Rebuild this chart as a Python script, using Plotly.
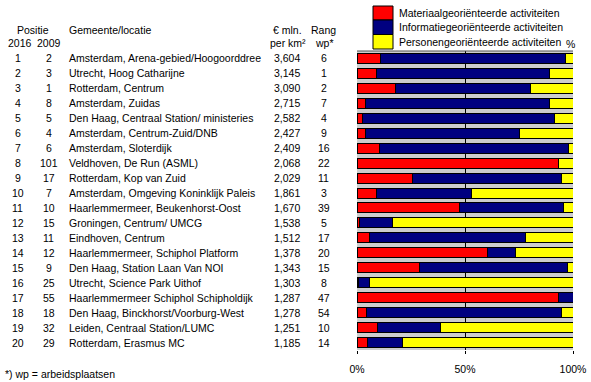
import plotly.graph_objects as go

pos2016 = list(range(1, 21))
pos2009 = [2, 3, 1, 8, 5, 4, 6, 101, 17, 7, 10, 15, 11, 12, 9, 25, 55, 18, 32, 29]
locaties = [
    "Amsterdam, Arena-gebied/Hoogoorddree",
    "Utrecht, Hoog Catharijne",
    "Rotterdam, Centrum",
    "Amsterdam, Zuidas",
    "Den Haag, Centraal Station/ ministeries",
    "Amsterdam, Centrum-Zuid/DNB",
    "Amsterdam, Sloterdijk",
    "Veldhoven, De Run (ASML)",
    "Rotterdam, Kop van Zuid",
    "Amsterdam, Omgeving Koninklijk Paleis",
    "Haarlemmermeer, Beukenhorst-Oost",
    "Groningen, Centrum/ UMCG",
    "Eindhoven, Centrum",
    "Haarlemmermeer, Schiphol Platform",
    "Den Haag, Station Laan Van NOI",
    "Utrecht, Science Park Uithof",
    "Haarlemmermeer Schiphol Schipholdijk",
    "Den Haag, Binckhorst/Voorburg-West",
    "Leiden, Centraal Station/LUMC",
    "Rotterdam, Erasmus MC",
]
mln_per_km2 = ["3,604", "3,145", "3,090", "2,715", "2,582", "2,427", "2,409", "2,068", "2,029", "1,861",
               "1,670", "1,538", "1,512", "1,378", "1,343", "1,303", "1,287", "1,278", "1,251", "1,185"]
rang_wp = [6, 1, 2, 7, 4, 9, 16, 22, 11, 3, 39, 5, 17, 20, 15, 8, 47, 54, 10, 14]

materiaal = [10.9, 9.1, 17.8, 4.0, 2.6, 4.0, 10.5, 93.1, 25.7, 9.1,
             47.4, 1.1, 5.8, 60.3, 28.9, 0.6, 93.1, 4.5, 9.5, 4.9]
informatie = [85.5, 80.0, 62.5, 85.1, 88.8, 71.2, 87.4, 0.0, 69.1, 44.0,
              48.2, 15.5, 72.3, 13.1, 68.5, 5.4, 6.9, 90.3, 29.2, 16.3]
personen = [round(100 - m - i, 1) for m, i in zip(materiaal, informatie)]

series_names = ["Materiaalgeoriënteerde activiteiten",
                "Informatiegeoriënteerde activiteiten",
                "Personengeoriënteerde activiteiten"]
series_colors = ["#ff0000", "#000080", "#ffff00"]
tick_vals = [0, 50, 100]
tick_text = ["0%", "50%", "100%"]

W, H = 591, 382
L, R, T, B = 357, 18, 51, 32
PW, PH = W - L - R, H - T - B

def px(x):
    return (x - L) / PW

def py(y):
    return 1 - (y - T) / PH

rows = list(range(len(locaties)))
fig = go.Figure()
for vals, name, col in zip([materiaal, informatie, personen], series_names, series_colors):
    fig.add_trace(go.Bar(
        y=rows, x=vals, orientation="h", name=name, width=0.667,
        marker=dict(color=col, line=dict(color="black", width=1)),
        showlegend=False,
    ))

FONT = dict(family="Liberation Sans, Arial, sans-serif", size=10.5, color="black")
ann = []
def add(text, x, y, xanchor="center", yref="paper"):
    ann.append(dict(text=text, x=x, y=y, xref="paper", yref=yref, xanchor=xanchor,
                    yanchor="middle", showarrow=False, font=FONT))

for i in rows:
    add(str(pos2016[i]), px(17.5), i, "center", "y")
    add(str(pos2009[i]), px(48.5), i, "center", "y")
    add(locaties[i], px(66.5), i, "left", "y")
    add(mln_per_km2[i], px(301.5), i, "right", "y")
    add(str(rang_wp[i]), px(323.5), i, "center", "y")

add("Positie", px(33), py(30))
add("2016", px(20), py(43.5))
add("2009", px(49), py(43.5))
add("Gemeente/locatie", px(66.5), py(30), "left")
add("€ mln.", px(287), py(30))
add("per km²", px(287.5), py(43.5))
add("Rang", px(323.5), py(30))
add("wp*", px(324), py(43.5))
add("*) wp = arbeidsplaatsen", px(3), py(374), "left")
add("%", px(570), py(44))

shapes = []
box_y = [(6, 20), (20, 34.5), (34.5, 49)]
for (y0, y1), name, col in zip(box_y, series_names, series_colors):
    shapes.append(dict(type="rect", xref="paper", yref="paper", x0=px(373), x1=px(393),
                       y0=py(y1), y1=py(y0), fillcolor=col, line=dict(color="black", width=1)))
    add(name, px(396.5), py((y0 + y1) / 2), "left")

shapes.append(dict(type="line", xref="paper", yref="paper", x0=0, x1=1, y0=1, y1=1,
                   line=dict(color="#555555", width=1)))

fig.update_layout(
    width=W, height=H, barmode="stack",
    margin=dict(l=L, r=R, t=T, b=B, pad=0),
    paper_bgcolor="white", plot_bgcolor="#cdcdcd",
    annotations=ann, shapes=shapes,
    xaxis=dict(range=[0, 100], tickvals=tick_vals, ticktext=tick_text, showgrid=True,
               gridcolor="black", gridwidth=1, zeroline=False, ticks="outside", ticklen=3,
               tickcolor="black", tickfont=FONT, ticklabelstandoff=6, fixedrange=True,
               automargin=False),
    yaxis=dict(range=[19.5, -0.5], showticklabels=False, showgrid=False, zeroline=False,
               ticks="", fixedrange=True, automargin=False),
    bargap=0.333,
)
fig.write_html("out.html", config={"displayModeBar": False},
               post_script="document.body.style.margin='0px';document.body.style.overflow='hidden';")
